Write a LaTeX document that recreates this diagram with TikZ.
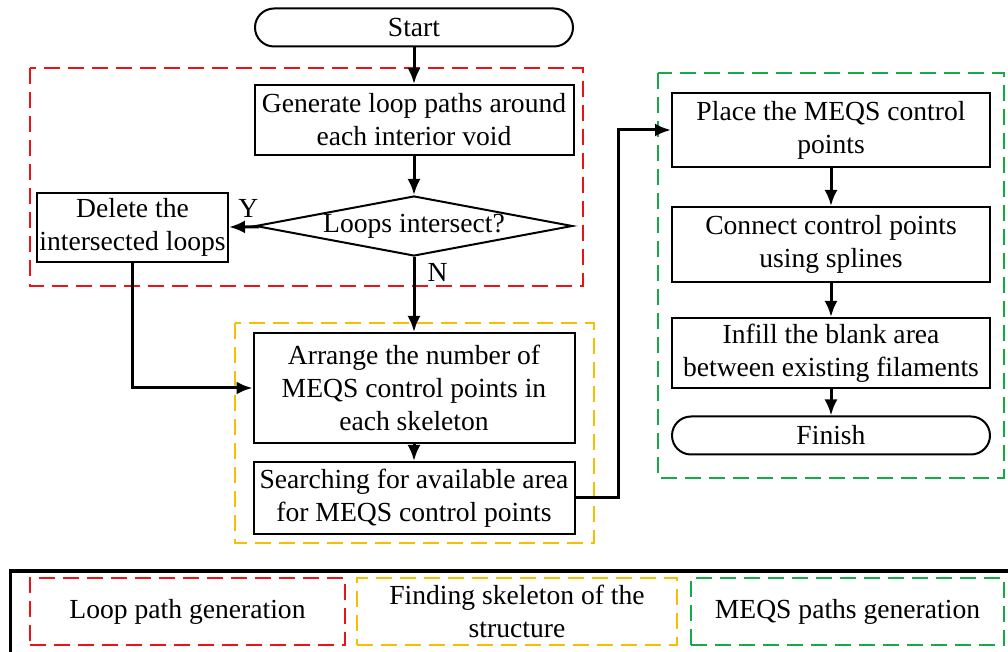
\documentclass[tikz,border=0pt]{standalone}
\usepackage{fontspec}
\setmainfont{Liberation Serif}
\usetikzlibrary{shapes.geometric, arrows.meta}

\definecolor{loopred}{RGB}{235,20,20}
\definecolor{skelyellow}{RGB}{250,190,0}
\definecolor{meqsgreen}{RGB}{20,170,70}

\begin{document}
\begin{tikzpicture}[
        x=0.5pt, y=-0.5pt,
        every node/.style={align=center, inner sep=0pt, font=\fontsize{13.8}{16.5}\selectfont},
        stepbox/.style={draw, line width=1pt, rectangle, minimum width=159.5pt},
        term/.style={draw, line width=1pt, rectangle, rounded corners=9.5pt, minimum width=159pt, minimum height=19pt},
        decision/.style={draw, line width=1pt, diamond, aspect=5.3, minimum width=158.5pt, minimum height=30pt},
        flow/.style={line width=1.5pt, -{Latex[length=8pt, width=6.5pt]}},
        region/.style={draw, line width=1.3pt, dash pattern=on 8pt off 4pt},
        keybox/.style={region, minimum height=33.5pt}
    ]
        \useasboundingbox (0,0) rectangle (1008,652);

        % grouping frames
        \draw[region, loopred] (30,68) rectangle (583,286);
        \draw[region, skelyellow] (235,323) rectangle (594,543);
        \draw[region, meqsgreen] (658,73) rectangle (1004,478);

        % loop path part
        \node[term] (start) at (414,27.5) {Start};
        \node[stepbox, minimum height=35pt] (gen) at (414,120) {Generate loop paths around\\each interior void};
        \node[decision] (isect) at (414,226) {Loops intersect?};
        \node[stepbox, minimum width=95.5pt, minimum height=34.5pt] (del) at (132.5,227.5) {Delete the\\intersected loops};

        % skeleton part
        \node[stepbox, minimum width=160.5pt, minimum height=55pt] (arr) at (414,388) {Arrange the number of\\MEQS control points in\\each skeleton};
        \node[stepbox, minimum width=160.5pt, minimum height=36pt] (srch) at (414,498) {Searching for available area\\for MEQS control points};

        % MEQS part
        \node[stepbox, minimum width=159pt, minimum height=37pt] (place) at (831,130) {Place the MEQS control\\points};
        \node[stepbox, minimum width=159pt, minimum height=37.5pt] (conn) at (831,244.5) {Connect control points\\using splines};
        \node[stepbox, minimum width=159pt, minimum height=35pt] (infill) at (831,353) {Infill the blank area\\between existing filaments};
        \node[term] (fin) at (831,435.5) {Finish};

        \draw[flow] (start) -- (gen);
        \draw[flow] (gen) -- (isect);
        \draw[flow] (isect) -- (del) node[pos=0.35, above=4pt] {Y};
        \draw[flow] (isect) -- (arr) node[pos=0.2, right=6pt] {N};
        \draw[flow] (del) |- (arr);
        \draw[flow] (arr) -- (srch);
        \draw[flow] (srch.east) -- ++(43,0) |- (place.west);
        \draw[flow] (place) -- (conn);
        \draw[flow] (conn) -- (infill);
        \draw[flow] (infill) -- (fin);

        % key
        \draw[line width=1.5pt] (10,571) rectangle (1012,660);
        \node[keybox, loopred, minimum width=157.5pt, text=black] (keyloop) at (187.5,611.5) {Loop path generation};
        \node[keybox, skelyellow, minimum width=160pt, text=black] (keyskel) at (517,611.5) {Finding skeleton of the\\structure};
        \node[keybox, meqsgreen, minimum width=156.5pt, text=black] (keymeqs) at (847.5,611.5) {MEQS paths generation};
    \end{tikzpicture}
\end{document}
